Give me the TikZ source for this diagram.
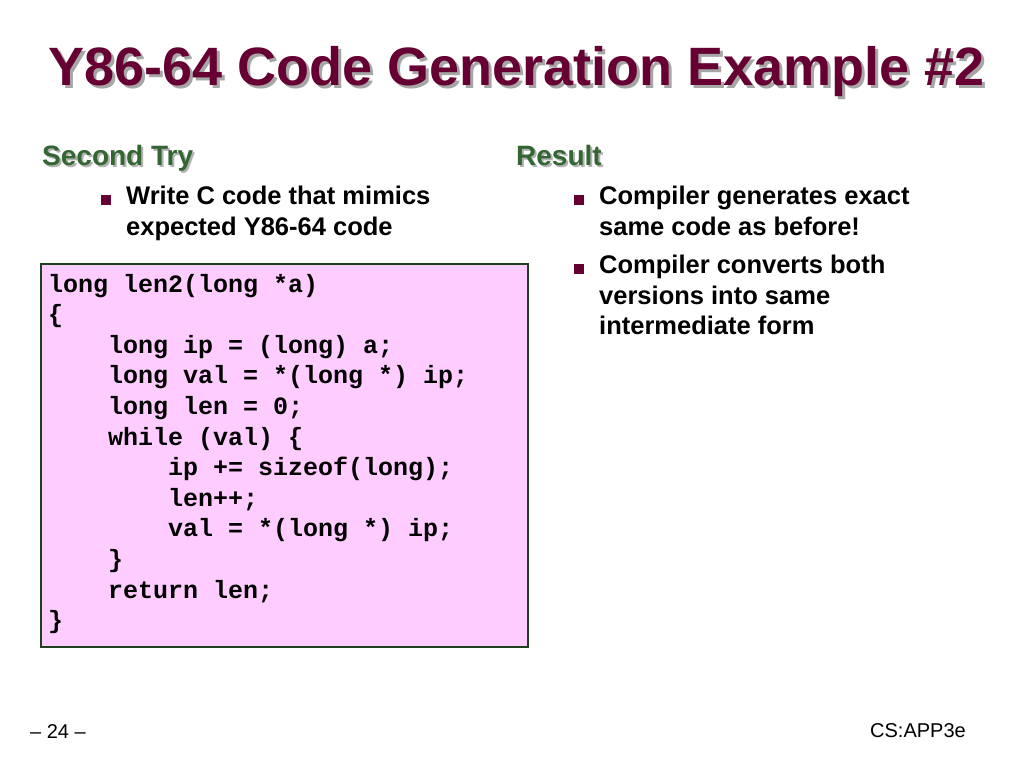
\documentclass[tikz,border=0pt]{standalone}
\usepackage{fontspec}
\setmainfont{Liberation Sans}
\setmonofont{Liberation Mono}
\definecolor{maroon}{HTML}{660033}
\definecolor{headgreen}{HTML}{336633}
\definecolor{codepink}{HTML}{FFCCFF}
\definecolor{boxgreen}{HTML}{1F3F1F}
\usetikzlibrary{positioning}

\begin{document}
\begin{tikzpicture}
  [x=1pt,y=-1pt,
   every node/.style={inner sep=0pt,anchor=base west},
   title/.style={font=\fontsize{54}{58}\bfseries\selectfont},
   heading/.style={font=\fontsize{28}{32}\bfseries\selectfont},
   bullet/.style={font=\fontsize{25.5}{30.5}\bfseries\selectfont,align=left,anchor=north west},
   codeline/.style={font=\fontsize{25}{28}\ttfamily\bfseries\selectfont},
   foot/.style={font=\fontsize{20}{24}\selectfont}]
  \useasboundingbox (0,0) rectangle (1024,767);
  % title with shadow
  \node[title,text=gray!70] (tshadow) at (51,89) {Y86-64 Code Generation Example \#2};
  \node[title,text=maroon] (title) at (48,86) {Y86-64 Code Generation Example \#2};
  % headings
  \node[heading,text=gray!60] (hlshadow) at (44,168) {Second Try};
  \node[heading,text=headgreen] (hleft) at (42,166) {Second Try};
  \node[heading,text=gray!60] (hrshadow) at (518,168) {Result};
  \node[heading,text=headgreen] (hright) at (516,166) {Result};
  % bullets
  \foreach \name/\bx/\by in {b1/101/206, b2/574/206, b3/574/275}
    \fill[maroon] (\bx,\by-11) rectangle ++(10,10);
  \node[bullet] (t1) at (126,186) {Write C code that mimics\\expected Y86-64 code};
  \node[bullet] (t2) at (599,186) {Compiler generates exact\\same code as before!};
  \node[bullet] (t3) at (599,255) {Compiler converts both\\versions into same\\intermediate form};
  % code box
  \draw[boxgreen,line width=1.5,fill=codepink] (41,264) rectangle (528,647);
  \foreach \i/\txt in {0/{long len2(long *a)}, 1/\{, 2/{\ \ \ \ long ip = (long) a;},
      3/{\ \ \ \ long val = *(long *) ip;}, 4/{\ \ \ \ long len = 0;},
      5/{\ \ \ \ while (val) \{}, 6/{\ \ \ \ \ \ \ \ ip += sizeof(long);},
      7/{\ \ \ \ \ \ \ \ len++;}, 8/{\ \ \ \ \ \ \ \ val = *(long *) ip;},
      9/{\ \ \ \ \}}, 10/{\ \ \ \ return len;}, 11/\}}
    \node[codeline] (c\i) at (48,292+30.6*\i) {\txt};
  % footer
  \node[foot] (page) at (30,738) {– 24 –};
  \node[foot] (course) at (870,737) {CS:APP3e};
\end{tikzpicture}
\end{document}
